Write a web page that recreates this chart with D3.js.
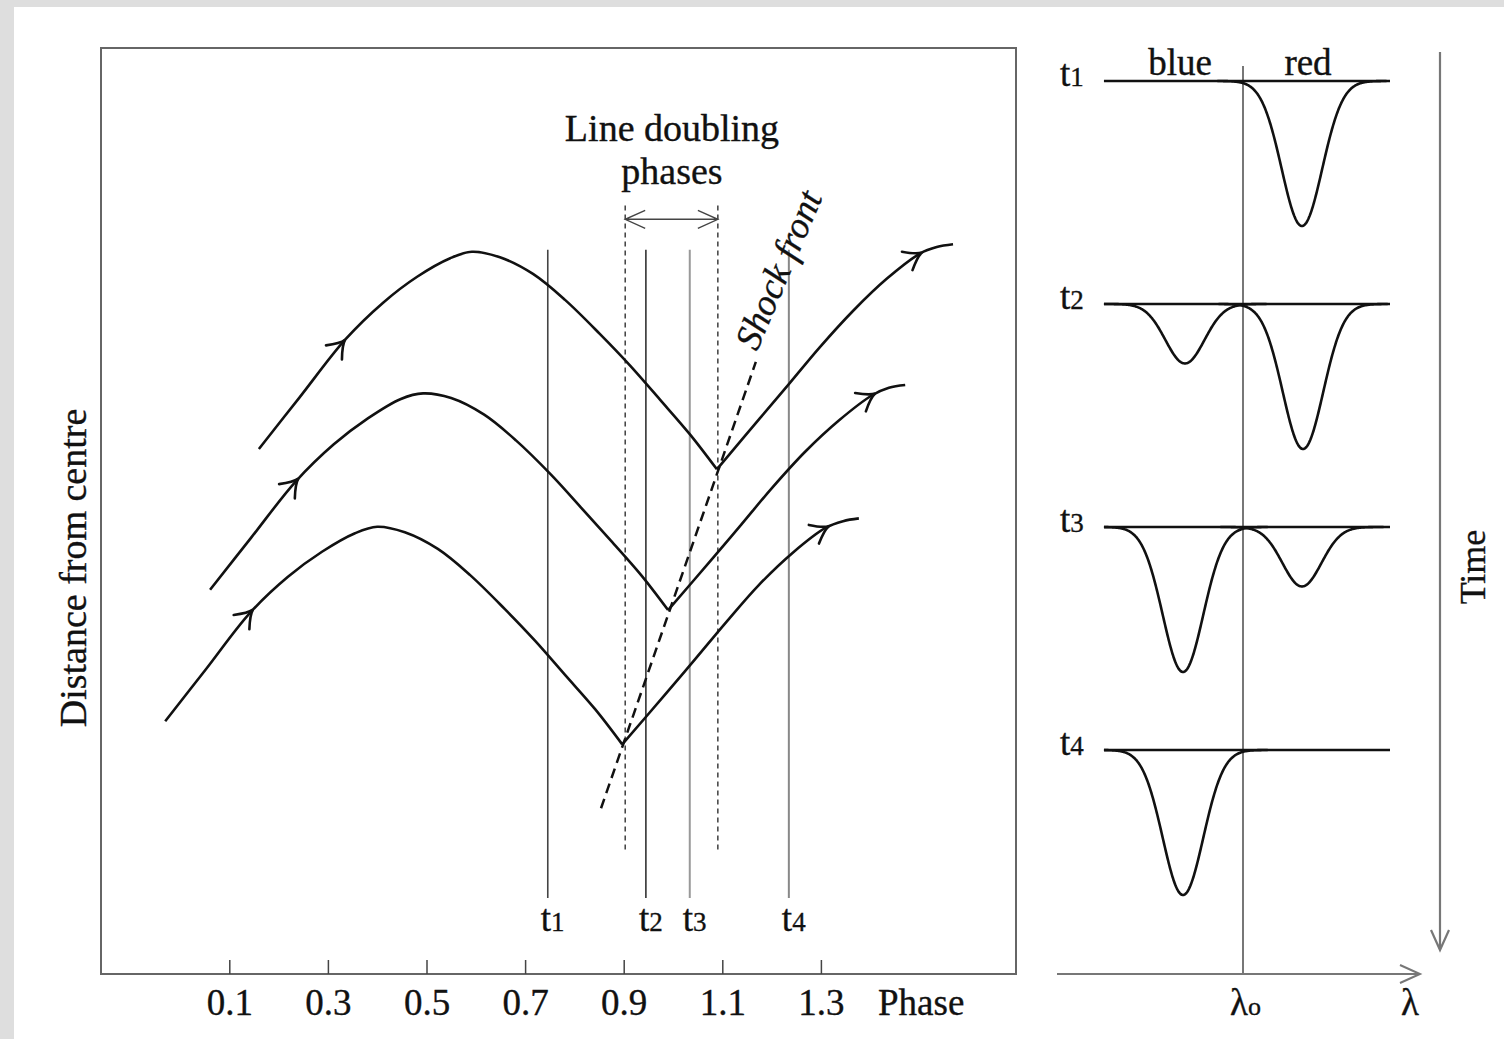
<!DOCTYPE html>
<html>
<head>
<meta charset="utf-8">
<script src="https://cdn.jsdelivr.net/npm/d3@7"></script>
<style>
  html, body { margin: 0; padding: 0; background: #dedede; }
  svg { display: block; }
  text { font-family: "Liberation Serif", "DejaVu Serif", serif; fill: #111; stroke: #111; stroke-width: 0.35px; }
</style>
</head>
<body>
<svg id="chart" width="1504" height="1039"></svg>
<script>
// ---- Phase diagram: pulsation trajectories of three atmospheric layers ----
const phaseTicks = [0.1, 0.3, 0.5, 0.7, 0.9, 1.1, 1.3];

// [phase, distance] before the shock passes (ballistic arc)
const layer1Rise = [[0.160,5.67],[0.243,6.23],[0.335,6.85],[0.412,7.25],[0.481,7.53],[0.548,7.73],[0.592,7.80],[0.649,7.74],[0.716,7.56],[0.781,7.28],[0.852,6.91],[0.913,6.57],[0.974,6.20],[1.034,5.83],[1.089,5.45]];
const layer2Rise = [[0.061,4.15],[0.144,4.71],[0.235,5.32],[0.312,5.72],[0.381,6.00],[0.448,6.21],[0.493,6.27],[0.550,6.22],[0.617,6.04],[0.682,5.76],[0.753,5.39],[0.813,5.04],[0.874,4.68],[0.935,4.31],[0.990,3.93]];
const layer3Rise = [[-0.030,2.73],[0.051,3.28],[0.142,3.90],[0.219,4.29],[0.288,4.56],[0.355,4.76],[0.400,4.83],[0.456,4.77],[0.523,4.59],[0.588,4.31],[0.659,3.94],[0.720,3.60],[0.781,3.23],[0.842,2.86],[0.897,2.48]];
// [phase, distance] after the shock passes
const layer1Post = [[1.089,5.45],[1.176,6.00],[1.235,6.37],[1.298,6.77],[1.365,7.16],[1.434,7.51],[1.501,7.78],[1.535,7.85],[1.568,7.88]];
const layer2Post = [[0.990,3.93],[1.079,4.48],[1.138,4.85],[1.201,5.25],[1.268,5.64],[1.337,5.98],[1.404,6.25],[1.438,6.33],[1.471,6.36]];
const layer3Post = [[0.897,2.48],[0.986,3.03],[1.045,3.40],[1.108,3.80],[1.174,4.20],[1.243,4.55],[1.310,4.82],[1.345,4.89],[1.377,4.92]];
// phase of the direction arrows on each trajectory
const riseArrowPhases = [0.335, 0.240, 0.148];
const postArrowPhases = [1.505, 1.410, 1.316];

// shock front track [phase, distance]
const shockFront = [[0.854,1.79],[1.168,6.61]];
// observation epochs
const epochLabels = ["1", "2", "3", "4"];
const epochPhases = [0.746, 0.945, 1.034, 1.235];
const epochShade = ["#444", "#333", "#999", "#888"];
const epochSpan = [0.82, 7.82];
// line doubling interval
const doublingPhases = [0.903, 1.091];
const doublingSpan = [1.32, 8.30];
const doublingArrowLevel = 8.15;

// ---- Spectral profiles at each epoch ----
// line centre (relative to lambda0), depth, width
const epochLines = [
  [{c: 0.393, depth: 1.00, w: 0.135}],
  [{c: -0.387, depth: 0.41, w: 0.13}, {c: 0.40, depth: 1.00, w: 0.135}],
  [{c: -0.40, depth: 1.00, w: 0.135}, {c: 0.393, depth: 0.41, w: 0.13}],
  [{c: -0.40, depth: 1.00, w: 0.135}]
];
const continuumExtent = [-0.927, 0.98];

const svg = d3.select("#chart");

// page sheet
svg.append("rect").attr("x", 14).attr("y", 7).attr("width", 1504 - 14).attr("height", 1039 - 7).attr("fill", "#fff");

// scales
const x = d3.scaleLinear().domain([0, 1]).range([180, 673]);
const y = d3.scaleLinear().domain([0, 10]).range([974, 48]);
const wl = d3.scaleLinear().domain([-1, 1]).range([1093, 1393]);
const tRow = d3.scaleLinear().domain([1, 4]).range([81, 750]);
const depthPx = d3.scaleLinear().domain([0, 1]).range([0, 145]);

// frame
svg.append("rect").attr("x", 101).attr("y", 48).attr("width", 915).attr("height", 926)
  .attr("fill", "none").attr("stroke", "#666").attr("stroke-width", 2);

// phase axis (ticks point inward)
const axis = d3.axisBottom(x).tickValues(phaseTicks).tickSize(-14).tickPadding(15).tickFormat(d3.format(".1f"));
const gAxis = svg.append("g").attr("transform", "translate(0,974)").call(axis);
gAxis.select(".domain").remove();
gAxis.selectAll(".tick line").attr("stroke", "#444").attr("stroke-width", 1.5);
gAxis.selectAll(".tick text").attr("font-size", 37).attr("font-family", "Liberation Serif").attr("fill", "#111");
svg.append("text").attr("x", 878).attr("y", 1015).attr("font-size", 37).text("Phase");

// y label
svg.append("text").attr("transform", "translate(86,568) rotate(-90)")
  .attr("text-anchor", "middle").attr("font-size", 38).text("Distance from centre");

// epoch lines
epochPhases.forEach((p, i) => {
  svg.append("line").attr("x1", x(p)).attr("x2", x(p)).attr("y1", y(epochSpan[1])).attr("y2", y(epochSpan[0]))
    .attr("stroke", epochShade[i]).attr("stroke-width", i < 2 ? 1.6 : 2);
  const t = svg.append("text").attr("x", x(p) - 7).attr("y", 931).attr("font-size", 37);
  t.append("tspan").text("t");
  t.append("tspan").attr("font-size", 27).text(epochLabels[i]);
});

// line doubling interval
doublingPhases.forEach(p => {
  svg.append("line").attr("x1", x(p)).attr("x2", x(p)).attr("y1", y(doublingSpan[1])).attr("y2", y(doublingSpan[0]))
    .attr("stroke", "#222").attr("stroke-width", 1.3).attr("stroke-dasharray", "5,4");
});
const ya = y(doublingArrowLevel), xa0 = x(doublingPhases[0]), xa1 = x(doublingPhases[1]);
svg.append("path").attr("fill", "none").attr("stroke", "#444").attr("stroke-width", 1.4)
  .attr("d", `M${xa0},${ya}L${xa1},${ya}M${xa0 + 20},${ya - 9}L${xa0},${ya}L${xa0 + 20},${ya + 9}M${xa1 - 20},${ya - 9}L${xa1},${ya}L${xa1 - 20},${ya + 9}`);
svg.append("text").attr("x", 672).attr("y", 141).attr("text-anchor", "middle").attr("font-size", 38).text("Line doubling");
svg.append("text").attr("x", 672).attr("y", 184).attr("text-anchor", "middle").attr("font-size", 38).text("phases");

// shock front
const line = d3.line().x(d => x(d[0])).y(d => y(d[1]));
svg.append("path").attr("d", line(shockFront)).attr("fill", "none").attr("stroke", "#111")
  .attr("stroke-width", 2.5).attr("stroke-dasharray", "10,6");
svg.append("text").attr("transform", "translate(757,352) rotate(-67)")
  .attr("font-size", 37).attr("font-style", "italic").text("Shock front");

// trajectories
const smooth = d3.line().x(d => x(d[0])).y(d => y(d[1])).curve(d3.curveCatmullRom.alpha(0.5));
function arrowAt(pathNode, px) {
  const L = pathNode.getTotalLength();
  let lo = 0, hi = L;
  for (let k = 0; k < 40; k++) {
    const mid = (lo + hi) / 2;
    if (pathNode.getPointAtLength(mid).x < px) lo = mid; else hi = mid;
  }
  const p = pathNode.getPointAtLength(lo);
  const q = pathNode.getPointAtLength(Math.max(0, lo - 6));
  const ang = Math.atan2(q.y - p.y, q.x - p.x);
  const len = 20, spread = 0.56;
  const b1 = [p.x + len * Math.cos(ang + spread), p.y + len * Math.sin(ang + spread)];
  const b2 = [p.x + len * Math.cos(ang - spread), p.y + len * Math.sin(ang - spread)];
  return `M${b1[0]},${b1[1]}Q${p.x + 6 * Math.cos(ang + 0.2)},${p.y + 6 * Math.sin(ang + 0.2)} ${p.x},${p.y}Q${p.x + 6 * Math.cos(ang - 0.2)},${p.y + 6 * Math.sin(ang - 0.2)} ${b2[0]},${b2[1]}`;
}
const layers = [[layer1Rise, layer1Post], [layer2Rise, layer2Post], [layer3Rise, layer3Post]];
layers.forEach(([rise, post], i) => {
  const a = svg.append("path").attr("d", smooth(rise)).attr("fill", "none").attr("stroke", "#111").attr("stroke-width", 2.6);
  const b = svg.append("path").attr("d", smooth(post)).attr("fill", "none").attr("stroke", "#111").attr("stroke-width", 2.6);
  svg.append("path").attr("d", arrowAt(a.node(), x(riseArrowPhases[i]))).attr("fill", "none").attr("stroke", "#111").attr("stroke-width", 2.6).attr("stroke-linecap", "round");
  svg.append("path").attr("d", arrowAt(b.node(), x(postArrowPhases[i]))).attr("fill", "none").attr("stroke", "#111").attr("stroke-width", 2.6).attr("stroke-linecap", "round");
});

// ---- right panel ----
const axisGray = "#777";
// wavelength axis
svg.append("path").attr("fill", "none").attr("stroke", axisGray).attr("stroke-width", 2)
  .attr("d", `M1057,974L1420,974M1400,965L1420,974L1400,983`);
// rest wavelength
svg.append("line").attr("x1", wl(0)).attr("x2", wl(0)).attr("y1", 66).attr("y2", 974)
  .attr("stroke", axisGray).attr("stroke-width", 2);
// time arrow
svg.append("path").attr("fill", "none").attr("stroke", axisGray).attr("stroke-width", 2.2)
  .attr("d", `M1440,52L1440,950M1431,930L1440,950L1449,930`);
svg.append("text").attr("transform", "translate(1485,567) rotate(-90)").attr("text-anchor", "middle").attr("font-size", 36).text("Time");

const lo = svg.append("text").attr("x", wl(0) - 13).attr("y", 1015).attr("font-size", 37);
lo.append("tspan").text("λ");
lo.append("tspan").attr("font-size", 26).text("o");
svg.append("text").attr("x", 1410).attr("y", 1015).attr("text-anchor", "middle").attr("font-size", 37).text("λ");

svg.append("text").attr("x", 1180).attr("y", 75).attr("text-anchor", "middle").attr("font-size", 37).text("blue");
svg.append("text").attr("x", 1308).attr("y", 75).attr("text-anchor", "middle").attr("font-size", 37).text("red");

const samples = d3.range(continuumExtent[0], continuumExtent[1] + 1e-9, 0.004);
epochLines.forEach((lines, i) => {
  const base = tRow(i + 1);
  svg.append("line").attr("x1", wl(continuumExtent[0])).attr("x2", wl(continuumExtent[1]))
    .attr("y1", base).attr("y2", base).attr("stroke", "#111").attr("stroke-width", 2.6);
  lines.forEach(ln => {
    const pts = samples.filter(v => Math.abs(v - ln.c) < 4.2 * ln.w)
      .map(v => [v, ln.depth * Math.exp(-0.5 * Math.pow((v - ln.c) / ln.w, 2))]);
    const prof = d3.line().x(d => wl(d[0])).y(d => base + depthPx(d[1]));
    svg.append("path").attr("d", prof(pts)).attr("fill", "none").attr("stroke", "#111").attr("stroke-width", 2.6);
  });
  const t = svg.append("text").attr("x", 1060).attr("y", base + 5).attr("font-size", 37);
  t.append("tspan").text("t");
  t.append("tspan").attr("font-size", 27).text(epochLabels[i]);
});
</script>
</body>
</html>
